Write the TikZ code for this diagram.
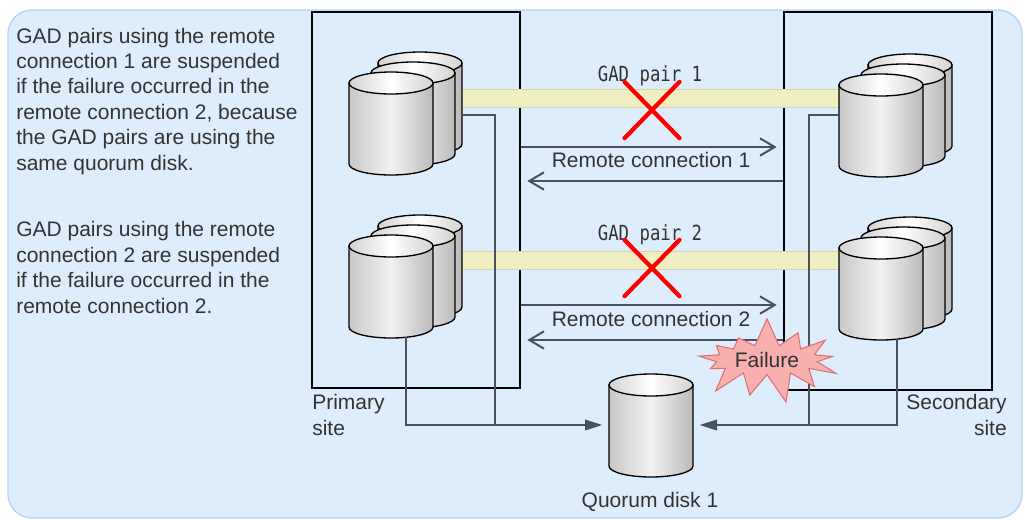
\documentclass[tikz,border=0pt]{standalone}
\usepackage{fontspec}
\setmainfont{Liberation Sans}
\newfontfamily\pairfont{DejaVu Sans Mono}
\usetikzlibrary{arrows.meta,shapes.misc,shapes.symbols}
\definecolor{panel}{HTML}{DDEDFC}
\definecolor{panelline}{HTML}{B4D4F4}
\definecolor{ink}{HTML}{333333}
\definecolor{wire}{HTML}{48525E}
\definecolor{pairband}{HTML}{F0EFC2}
\definecolor{pairedge}{HTML}{D4D4B4}
\definecolor{burstfill}{HTML}{F7B0AE}
\definecolor{burstline}{HTML}{DE7070}
\definecolor{sidelo}{HTML}{BABABA}
\definecolor{sidehi}{HTML}{F2F2F2}
\definecolor{toplo}{HTML}{D2D2D2}
\tikzset{
  disk/.pic={
    \path[draw=black,line width=1pt,left color=sidelo!80!white,right color=sidelo,middle color=sidehi]
      (-42,0) -- (-42,81) arc[start angle=180,end angle=0,x radius=42,y radius=11] -- (42,0) -- cycle;
    \path[draw=black,line width=1pt,left color=toplo,right color=toplo,middle color=white]
      (0,0) ellipse[x radius=42,y radius=11];
    \coordinate (-w) at (-42,40);
    \coordinate (-e) at (42,40);
  },
  txt/.style={text=ink,inner sep=0pt,font=\fontsize{15.75pt}{19.05pt}\selectfont},
  note/.style={txt,align=left},
  site/.style={draw=black,line width=2pt,minimum width=156pt,inner sep=0pt},
  remote/.style={draw=wire,line width=1.5pt,shorten >=4.5pt,
    -{Straight Barb[length=11pt,width=13pt]}},
  qlink/.style={draw=wire,line width=1.1pt},
  qarrow/.style={qlink,shorten >=5pt,-{Triangle[length=13pt,width=8pt]}},
  xmark/.style={cross out,draw=red,line width=3.2pt,line cap=round,
    minimum width=38pt,minimum height=39pt,inner sep=0pt},
  pairlab/.style={anchor=base,inner sep=0pt,text=ink,
    font=\pairfont\fontsize{13pt}{15pt}\selectfont},
  failure/.style={starburst,starburst points=13,starburst point height=22pt,
    random starburst=7,fill=burstfill,draw=burstline,line width=.8pt,
    minimum width=120pt,minimum height=66pt,txt}
}
\begin{document}
\begin{tikzpicture}[x=0.75pt,y=-0.75pt]
  \useasboundingbox (0,0) rectangle (1025,519);
  \filldraw[fill=panel,draw=panelline,line width=1pt,rounded corners=18pt] (8,10) rectangle (1022,518);

  \node[note,anchor=base west] (note1) at (16,170) {GAD pairs using the remote\\connection 1 are suspended\\if the failure occurred in the\\remote connection 2, because\\the GAD pairs are using the\\same quorum disk.};
  \node[note,anchor=base west] (note2) at (16,313) {GAD pairs using the remote\\connection 2 are suspended\\if the failure occurred in the\\remote connection 2.};

  \node[site,minimum height=282pt] (prim) at (416,200) {};
  \node[site,minimum height=283.5pt] (sec) at (888,201) {};
  \node[note,anchor=base west] (primlab) at (312,435) {Primary\\site};
  \node[txt,align=right,anchor=base east] (seclab) at (1007,435) {Secondary\\site};

  \coordinate (gad1w) at (440,89);
  \coordinate (gad1e) at (860,107);
  \coordinate (gad2w) at (440,251);
  \coordinate (gad2e) at (860,269);
  \filldraw[fill=pairband,draw=pairedge,line width=.6pt] (gad1w) rectangle (gad1e);
  \filldraw[fill=pairband,draw=pairedge,line width=.6pt] (gad2w) rectangle (gad2e);

  \foreach \n/\x/\y in {p1/391/83,p2/391/246,s1/881/85,s2/881/248}{
    \pic at (\x+29,\y-20) {disk};
    \pic at (\x+22,\y-10) {disk};
    \pic (\n) at (\x,\y) {disk};
  }
  \pic (qd) at (651,385) {disk};

  \coordinate (rc1out) at (650,147);
  \coordinate (rc1in) at (650,181);
  \coordinate (rc2out) at (650,305);
  \coordinate (rc2in) at (650,340);
  \draw[remote] (prim.east |- rc1out) -- (sec.west |- rc1out);
  \draw[remote] (sec.west |- rc1in) -- (prim.east |- rc1in);
  \draw[remote] (prim.east |- rc2out) -- (sec.west |- rc2out);
  \draw[remote] (sec.west |- rc2in) -- (prim.east |- rc2in);
  \node[txt,anchor=base] (rc1) at (651,167) {Remote connection 1};
  \node[txt,anchor=base] (rc2) at (651,326) {Remote connection 2};

  \coordinate (p1out) at (462,115);
  \coordinate (p2out) at (406,337);
  \coordinate (pbus) at (495,425);
  \coordinate (s1out) at (839,115);
  \coordinate (s2out) at (897,339);
  \coordinate (sbus) at (809,425);
  \draw[qlink] (p2out) |- (pbus);
  \draw[qarrow] (p1out) -| (pbus) -- (qd-w);
  \draw[qlink] (s2out) |- (sbus);
  \draw[qarrow] (s1out) -| (sbus) -- (qd-e);
  \node[txt,anchor=base] (qdlab) at (650,507) {Quorum disk 1};

  \node[pairlab] (pair1) at (650,81) {\scalebox{1}[1.2]{GAD pair 1}};
  \node[pairlab] (pair2) at (650,240) {\scalebox{1}[1.2]{GAD pair 2}};
  \node[xmark] (cut1) at (652,110) {};
  \node[xmark] (cut2) at (652,268) {};

  \node[failure] (fail) at (767,360) {Failure};
\end{tikzpicture}
\end{document}
